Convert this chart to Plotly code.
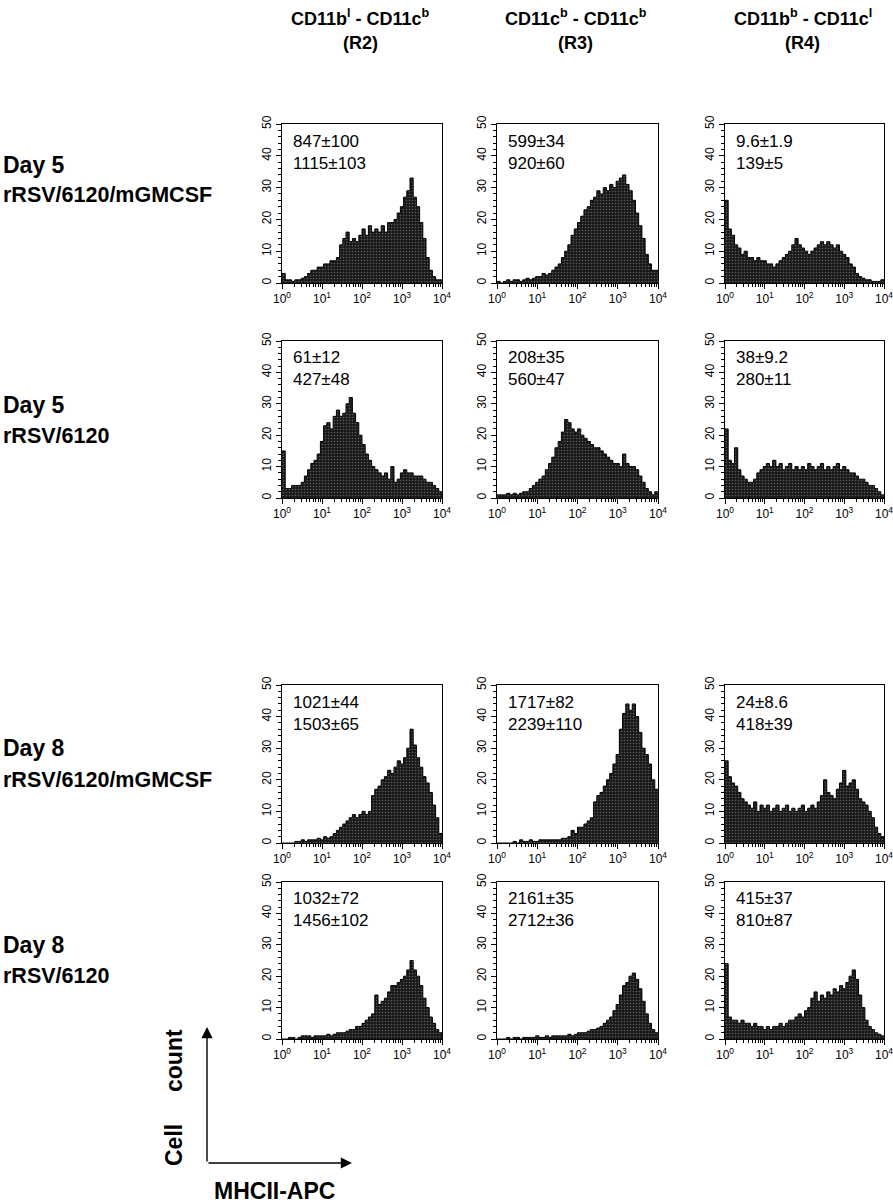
import plotly.graph_objects as go

# ---------------- data ----------------
col_headers = ["CD11b<sup>l</sup> - CD11c<sup>b</sup>",
               "CD11c<sup>b</sup> - CD11c<sup>b</sup>",
               "CD11b<sup>b</sup> - CD11c<sup>l</sup>"]
col_regions = ["(R2)", "(R3)", "(R4)"]
row_days = ["Day 5", "Day 5", "Day 8", "Day 8"]
row_virus = ["rRSV/6120/mGMCSF", "rRSV/6120", "rRSV/6120/mGMCSF", "rRSV/6120"]

# MFI annotations (two lines per panel)
mfi_labels = [
    ["847±100<br>1115±103", "599±34<br>920±60", "9.6±1.9<br>139±5"],
    ["61±12<br>427±48", "208±35<br>560±47", "38±9.2<br>280±11"],
    ["1021±44<br>1503±65", "1717±82<br>2239±110", "24±8.6<br>418±39"],
    ["1032±72<br>1456±102", "2161±35<br>2712±36", "415±37<br>810±87"],
]

# histogram channel: 50 bins of 0.08 decade from 10^0 to 10^4
bin_width_log = 0.08
n_bins = 50

d5_gm_r2 = [3, 1, 1, 0.5, 1, 1, 1.5, 2, 3, 4, 4, 5, 5, 6, 6, 7, 7, 8, 12, 14,
            16, 13, 14, 13, 15, 17, 15, 18, 16, 17, 16, 18, 16, 19, 19, 20, 22, 24, 27, 29,
            33, 27, 24, 19, 14, 8, 4, 2, 1, 1]
d5_gm_r3 = [0.5, 0, 0.5, 1, 0.5, 1, 1, 0.5, 1, 1.5, 1, 1.5, 2, 2, 3, 2.5, 3, 4, 5, 6,
            8, 10, 12, 15, 17, 19, 21, 23, 24, 26, 27, 29, 28, 30, 29, 31, 30, 32, 33, 34,
            31, 29, 26, 22, 18, 14, 9, 6, 4, 4]
d5_gm_r4 = [26, 17, 15, 12, 11, 9, 10, 8, 8, 7, 8, 7, 7, 6, 6, 5, 6, 7, 8, 9,
            10, 12, 14, 12, 11, 10, 9, 10, 11, 12, 13, 12, 13, 12, 11, 12, 10, 9, 8, 6,
            5, 3, 2, 1.5, 1, 1, 0.5, 0.5, 0.5, 1]
d5_r2 = [15, 3, 3, 4, 4, 4, 5, 7, 9, 11, 12, 14, 18, 23, 24, 22, 26, 28, 26, 27,
         30, 32, 27, 24, 20, 17, 14, 12, 10, 9, 8, 7, 8, 6, 10, 5, 6, 8, 9, 8,
         8, 7, 7, 7, 6, 5, 5, 4, 3, 2]
d5_r3 = [1, 1, 1, 1.5, 1, 1.5, 1, 1.5, 2, 2, 3, 4, 5, 6, 7, 9, 11, 13, 16, 18,
         21, 25, 24, 22, 21, 22, 20, 19, 18, 17, 16, 16, 15, 14, 13, 12, 11, 11, 10, 14,
         11, 10, 10, 9, 7, 5, 3, 2, 1, 2]
d5_r4 = [22, 12, 11, 16, 9, 7, 6, 5, 5, 6, 8, 9, 10, 11, 10, 12, 10, 11, 9, 10,
         11, 9, 10, 9, 10, 9, 11, 10, 9, 10, 11, 9, 10, 9, 10, 11, 9, 10, 9, 8,
         8, 7, 6, 6, 5, 4, 4, 3, 2, 1]
d8_gm_r2 = [0, 0, 0, 0, 0.5, 0.5, 1, 0.5, 1, 1, 1, 1.5, 1, 2, 1.5, 2, 3, 4, 5, 6,
            7, 8, 9, 8, 9, 10, 9, 10, 15, 17, 18, 20, 21, 23, 22, 24, 26, 25, 27, 30,
            36, 31, 27, 24, 21, 19, 16, 12, 8, 3]
d8_gm_r3 = [0, 0, 0, 0, 0, 0.5, 0, 1, 0.5, 0.5, 1, 0.5, 0.5, 1, 1, 1, 1, 1, 1, 1,
            1.5, 1.5, 2, 4, 3, 5, 5, 6, 7, 8, 13, 15, 16, 18, 20, 22, 25, 28, 36, 41,
            44, 42, 44, 40, 35, 30, 28, 25, 20, 17]
d8_gm_r4 = [26, 21, 19, 18, 16, 14, 13, 12, 11, 13, 10, 12, 11, 12, 10, 11, 12, 10, 11, 12,
            10, 11, 10, 11, 12, 10, 11, 12, 11, 13, 15, 20, 16, 15, 14, 17, 19, 23, 18, 19,
            20, 17, 14, 13, 12, 10, 8, 5, 3, 2]
d8_r2 = [0, 0, 0.5, 0.5, 0, 0.5, 1, 1, 1, 0.5, 1, 1, 1, 1, 1.5, 1, 1.5, 2, 2, 2,
         2.5, 3, 3, 4, 4, 5, 6, 7, 8, 14, 11, 12, 13, 15, 17, 17, 18, 19, 20, 22,
         25, 22, 20, 17, 13, 10, 7, 5, 3, 2]
d8_r3 = [0, 0, 0, 0.5, 0, 0.5, 0.5, 0, 0.5, 0.5, 0.5, 0.5, 1, 0.5, 0.5, 1, 0.5, 1, 1, 1,
         1, 1, 1.5, 1, 1.5, 2, 2, 2, 2.5, 3, 3, 3.5, 4, 5, 6, 7, 9, 11, 14, 17,
         18, 20, 21, 19, 16, 12, 8, 5, 3, 2]
d8_r4 = [24, 7, 6, 6, 5, 6, 5, 5, 4, 5, 4, 4, 3, 4, 3, 4, 4, 5, 4, 5,
         6, 6, 7, 8, 7, 9, 10, 13, 15, 12, 14, 13, 15, 14, 16, 15, 17, 16, 18, 20,
         22, 19, 14, 10, 6, 4, 3, 2, 1.5, 1]

panel_counts = [
    [d5_gm_r2, d5_gm_r3, d5_gm_r4],
    [d5_r2, d5_r3, d5_r4],
    [d8_gm_r2, d8_gm_r3, d8_gm_r4],
    [d8_r2, d8_r3, d8_r4],
]

x_tickvals = [1, 10, 100, 1000, 10000]
x_ticktext = ["10<sup>0</sup>", "10<sup>1</sup>", "10<sup>2</sup>", "10<sup>3</sup>", "10<sup>4</sup>"]
y_tickvals = [0, 10, 20, 30, 40, 50]

# ---------------- layout geometry (pixels in the 893x1204 window) ----------------
W, H = 893, 1204
col_px = [(282, 442), (497, 658), (725, 884)]
row_px = [(124, 283), (341, 498), (685, 843), (882, 1039)]


def px_x(v):
    return v / W


def px_y(v):
    return 1 - v / H


tick_font = dict(family="Liberation Sans Narrow, Arial Narrow, Liberation Sans, Arial", size=12, color="black")
bold_font = "Liberation Sans, Arial, Helvetica, sans-serif"

edges_log = [i * bin_width_log for i in range(n_bins + 1)]
x_steps = [10 ** e for e in edges_log]

fig = go.Figure()
layout_axes = {}
annotations = []

for r in range(4):
    for c in range(3):
        idx = r * 3 + c + 1
        suffix = "" if idx == 1 else str(idx)
        counts = panel_counts[r][c]
        ys = list(counts) + [counts[-1]]
        fig.add_trace(go.Scatter(
            x=x_steps, y=ys, mode="lines", line=dict(color="black", width=1, shape="hv"),
            fill="tozeroy", fillcolor="#2b2b2b",
            fillpattern=dict(shape=".", bgcolor="#1a1a1a", fgcolor="#9a9a9a", size=3, solidity=0.22),
            xaxis="x" + suffix, yaxis="y" + suffix, showlegend=False, hoverinfo="skip"))
        x0, x1 = col_px[c]
        t, b = row_px[r]
        layout_axes["xaxis" + suffix] = dict(
            domain=[px_x(x0), px_x(x1)], anchor="y" + suffix, type="log", range=[0, 4],
            tickmode="array", tickvals=x_tickvals, ticktext=x_ticktext,
            ticks="outside", ticklen=5, tickwidth=1, tickcolor="black",
            minor=dict(ticks="outside", ticklen=3, tickcolor="black", dtick="D1", showgrid=False),
            showline=True, linecolor="black", linewidth=1, mirror=True, automargin=False,
            ticklabeloverflow="allow",
            showgrid=False, zeroline=False, tickfont=tick_font, fixedrange=True)
        layout_axes["yaxis" + suffix] = dict(
            domain=[px_y(b), px_y(t)], anchor="x" + suffix, range=[0, 50],
            tickmode="array", tickvals=y_tickvals, tickangle=-90,
            ticks="outside", ticklen=5, tickwidth=1, tickcolor="black",
            minor=dict(ticks="outside", ticklen=3, tickcolor="black", dtick=2, showgrid=False),
            showline=True, linecolor="black", linewidth=1, mirror=True, automargin=False,
            ticklabeloverflow="allow",
            showgrid=False, zeroline=False, tickfont=tick_font, fixedrange=True)
        annotations.append(dict(
            text=mfi_labels[r][c], xref=f"x{suffix} domain", yref=f"y{suffix} domain",
            x=0.055, y=0.965, xanchor="left", yanchor="top", align="left", showarrow=False,
            font=dict(family="Liberation Sans, Arial", size=17, color="black")))

# column headers
for c in range(3):
    x0, x1 = col_px[c]
    xc = px_x((x0 + x1) / 2 - 2)
    annotations.append(dict(
        text="<b>" + col_headers[c] + "</b>", xref="paper", yref="paper",
        x=xc, y=px_y(17), xanchor="center", yanchor="middle",
        showarrow=False, font=dict(family=bold_font, size=18, color="black")))
    annotations.append(dict(
        text="<b>" + col_regions[c] + "</b>", xref="paper", yref="paper",
        x=xc, y=px_y(43), xanchor="center", yanchor="middle",
        showarrow=False, font=dict(family=bold_font, size=18, color="black")))

# row labels
row_label_y = [(165, 195), (405, 436), (748, 780), (945, 976)]
for r in range(4):
    yd, yv = row_label_y[r]
    annotations.append(dict(text="<b>" + row_days[r] + "</b>", xref="paper", yref="paper",
                            x=px_x(1), y=px_y(yd), xanchor="left", yanchor="middle", showarrow=False,
                            font=dict(family=bold_font, size=23, color="black")))
    annotations.append(dict(text="<b>" + row_virus[r] + "</b>", xref="paper", yref="paper",
                            x=px_x(1), y=px_y(yv), xanchor="left", yanchor="middle", showarrow=False,
                            font=dict(family=bold_font, size=21.5, color="black")))

# axis key arrows
corner_x, corner_y = 207, 1163
annotations.append(dict(text="", xref="paper", yref="paper", x=px_x(corner_x), y=px_y(1027),
                        ax=0, ay=corner_y - 1027, axref="pixel", ayref="pixel",
                        showarrow=True, arrowhead=2, arrowsize=1.6, arrowwidth=1.4, arrowcolor="black"))
annotations.append(dict(text="", xref="paper", yref="paper", x=px_x(352), y=px_y(corner_y),
                        ax=-(352 - corner_x), ay=0, axref="pixel", ayref="pixel",
                        showarrow=True, arrowhead=2, arrowsize=1.6, arrowwidth=1.4, arrowcolor="black"))
annotations.append(dict(text="<b>Cell</b>", xref="paper", yref="paper", x=px_x(174), y=px_y(1145),
                        xanchor="center", yanchor="middle", textangle=-90, showarrow=False,
                        font=dict(family=bold_font, size=23, color="black")))
annotations.append(dict(text="<b>count</b>", xref="paper", yref="paper", x=px_x(174), y=px_y(1061),
                        xanchor="center", yanchor="middle", textangle=-90, showarrow=False,
                        font=dict(family=bold_font, size=23, color="black")))
annotations.append(dict(text="<b>MHCII-APC</b>", xref="paper", yref="paper", x=px_x(274), y=px_y(1191),
                        xanchor="center", yanchor="middle", showarrow=False,
                        font=dict(family=bold_font, size=23, color="black")))

fig.update_layout(width=W, height=H, autosize=False, margin=dict(l=0, r=0, t=0, b=0),
                  paper_bgcolor="white", plot_bgcolor="white", annotations=annotations,
                  **layout_axes)

# place the figure at the window's top-left corner (remove the default page margin)
fig.write_html("out.html", config={"displayModeBar": False},
               post_script="document.body.style.margin='0';document.body.style.overflow='hidden';")
